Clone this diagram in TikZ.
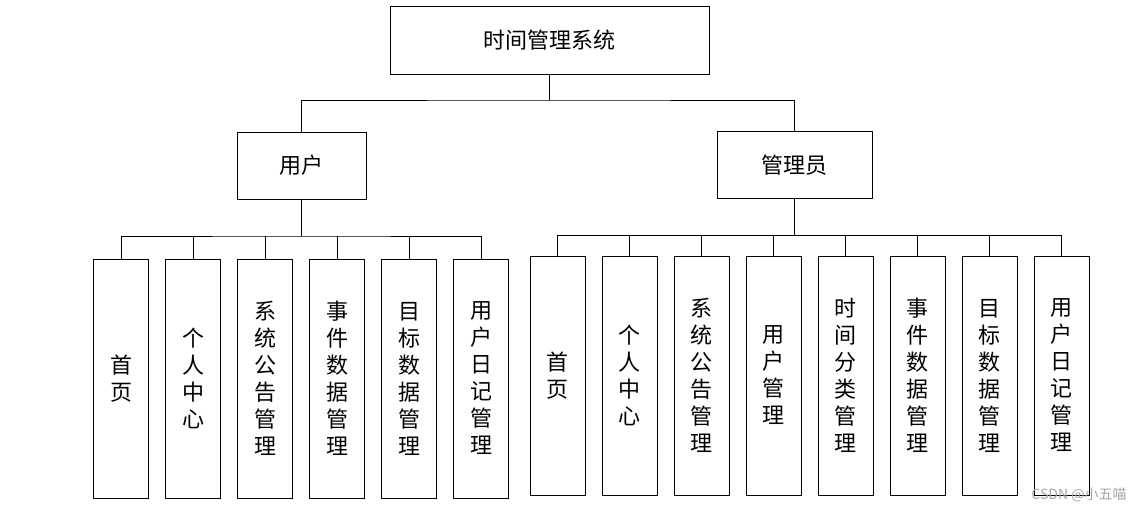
\documentclass[tikz,border=0pt]{standalone}
\usepackage{fontspec}
\usepackage{xcolor}
\usepackage{tikz}
\usetikzlibrary{positioning,calc}
\newfontfamily\cjk{Noto Sans CJK SC}
\definecolor{ink}{HTML}{000000}
\definecolor{mark}{HTML}{A8A8A8}
\tikzset{
  unit/.style={
    rectangle,draw=ink,line width=1pt,fill=white,
    inner sep=0pt,outer sep=0pt,align=center,
    font=\cjk\fontsize{22}{27}\selectfont
  },
  rootbox/.style={unit,minimum width=319pt,minimum height=68pt},
  rolebox/.style={unit,minimum height=67pt},
  leaf/.style={unit,minimum width=55pt,minimum height=239pt},
  link/.style={draw=ink,line width=0.9pt},
  trunk/.style={draw=ink,line width=1.7pt}
}
\begin{document}
\begin{tikzpicture}[x=1pt,y=-1pt]
  \useasboundingbox[fill=white] (0,0) rectangle (1143,512);
  \node[rootbox] (sys) at (549.5,40) {时间管理系统};
  \node[rolebox,minimum width=129pt] (user) at (301.5,165.5) {用户};
  \node[rolebox,minimum width=155pt] (admin) at (794.5,165) {管理员};
  % user functions
  \node[leaf] (u1) at (121,378.5) {首\\页};
  \node[leaf,right=17pt of u1] (u2) {个\\人\\中\\心};
  \node[leaf,right=17pt of u2] (u3) {系\\统\\公\\告\\管\\理};
  \node[leaf,right=17pt of u3] (u4) {事\\件\\数\\据\\管\\理};
  \node[leaf,right=17pt of u4] (u5) {目\\标\\数\\据\\管\\理};
  \node[leaf,right=17pt of u5] (u6) {用\\户\\日\\记\\管\\理};
  % admin functions
  \node[leaf] (a1) at (557.5,375.5) {首\\页};
  \node[leaf,right=17pt of a1] (a2) {个\\人\\中\\心};
  \node[leaf,right=17pt of a2] (a3) {系\\统\\公\\告\\管\\理};
  \node[leaf,right=17pt of a3] (a4) {用\\户\\管\\理};
  \node[leaf,right=17pt of a4] (a5) {时\\间\\分\\类\\管\\理};
  \node[leaf,right=17pt of a5] (a6) {事\\件\\数\\据\\管\\理};
  \node[leaf,right=17pt of a6] (a7) {目\\标\\数\\据\\管\\理};
  \node[leaf,right=17pt of a7] (a8) {用\\户\\日\\记\\管\\理};
  % connectors
  \draw[link] (sys.south) -- ++(0,26) coordinate (topbus);
  \draw[link] (user.north) |- (topbus) -| (admin.north);
  \draw[trunk] (user.south) -- ++(0,37) coordinate (userbus);
  \draw[link] (u1.north) |- (userbus) -| (u6.north);
  \draw[link] (u2.north) -- (u2.north |- userbus);
  \draw[link] (u3.north) -- (u3.north |- userbus);
  \draw[link] (u4.north) -- (u4.north |- userbus);
  \draw[link] (u5.north) -- (u5.north |- userbus);
  \draw[trunk] (admin.south) -- ++(0,37) coordinate (adminbus);
  \draw[link] (a1.north) |- (adminbus) -| (a8.north);
  \draw[link] (a2.north) -- (a2.north |- adminbus);
  \draw[link] (a3.north) -- (a3.north |- adminbus);
  \draw[link] (a4.north) -- (a4.north |- adminbus);
  \draw[link] (a5.north) -- (a5.north |- adminbus);
  \draw[link] (a6.north) -- (a6.north |- adminbus);
  \draw[link] (a7.north) -- (a7.north |- adminbus);
  \node[text=mark,font=\cjk\fontsize{14}{14}\selectfont,inner sep=0pt] (wm) at (1079,495) {CSDN @小五喵};
\end{tikzpicture}
\end{document}
